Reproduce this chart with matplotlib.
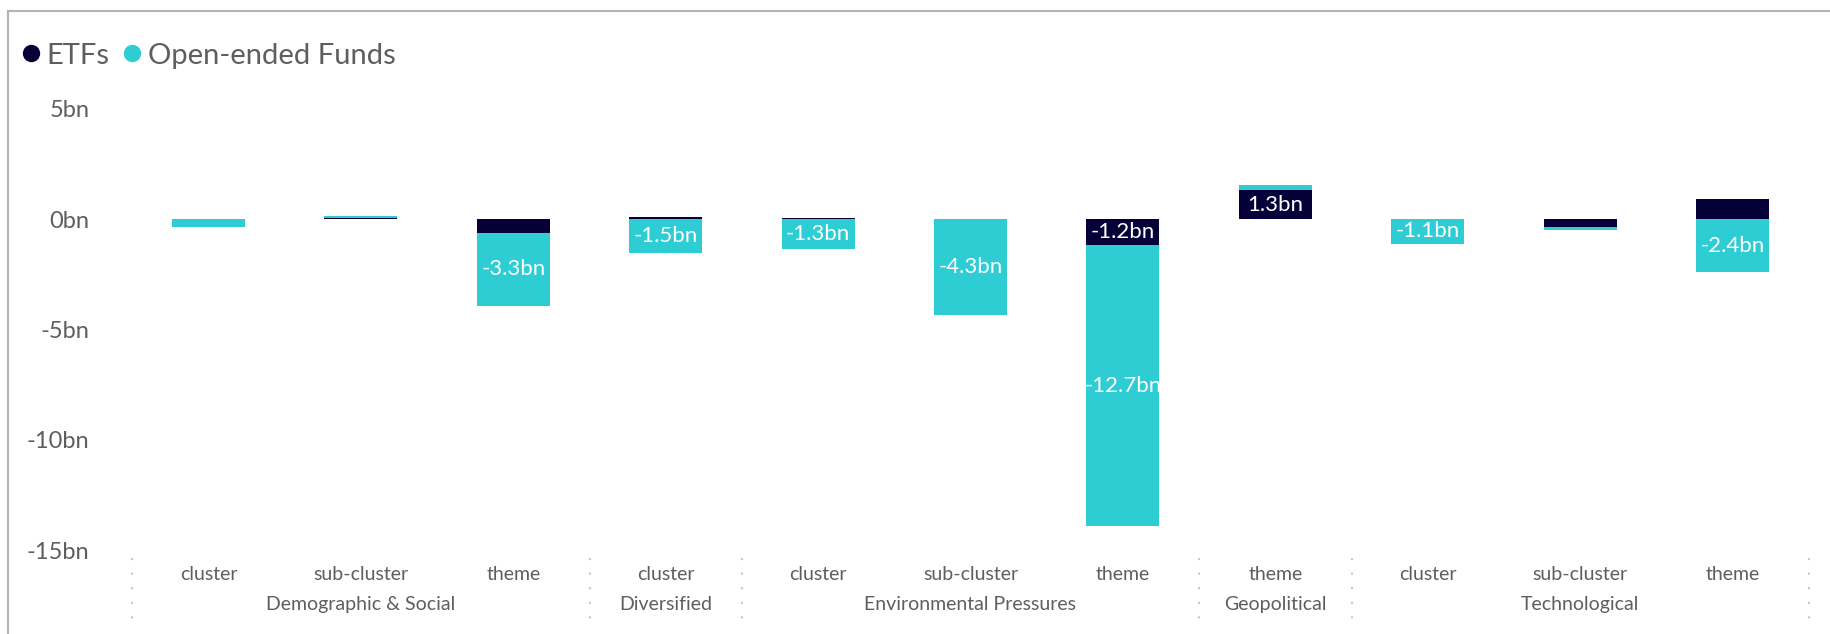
import matplotlib
matplotlib.use("Agg")
import matplotlib.pyplot as plt
from matplotlib.lines import Line2D
import numpy as np

plt.rcParams['font.family'] = ['Lato', 'DejaVu Sans']

# ---- data ----
categories = ["cluster", "sub-cluster", "theme",
              "cluster",
              "cluster", "sub-cluster", "theme",
              "theme",
              "cluster", "sub-cluster", "theme"]
groups = ["Demographic & Social", "Diversified", "Environmental Pressures",
          "Geopolitical", "Technological"]
group_sizes = [3, 1, 3, 1, 3]
etfs = [0.0, 0.05, -0.63, 0.09, 0.05, 0.0, -1.18, 1.31, 0.0, -0.37, 0.90]
oefs = [-0.36, 0.10, -3.29, -1.52, -1.34, -4.34, -12.72, 0.23, -1.12, -0.13, -2.40]
yticks = [5, 0, -5, -10, -15]
ytick_labels = ["5bn", "0bn", "-5bn", "-10bn", "-15bn"]

C_ETF = "#050038"
C_OEF = "#2ECCD3"
TXT = "#605E5C"

W, H = 1831, 634
fig = plt.figure(figsize=(W / 100, H / 100), dpi=100)
ax = fig.add_axes([132.3 / W, 1 - 550.5 / H, (1808.7 - 132.3) / W, (550.5 - 108.5) / H])

x = np.arange(len(categories))
etf = np.array(etfs)
oef = np.array(oefs)

# stacking: positives up from zero, negatives down from zero
pos_base = np.zeros(len(x))
neg_base = np.zeros(len(x))
for vals, color in [(etf, C_ETF), (oef, C_OEF)]:
    bottoms = np.where(vals >= 0, pos_base, neg_base)
    rects = ax.bar(x, vals, bottom=bottoms, width=0.48, color=color, linewidth=0)
    for r, v, b in zip(rects, vals, bottoms):
        if abs(v) >= 1.0:
            t = ax.text(r.get_x() + r.get_width() / 2, b + v / 2, f"{v:.1f}bn",
                        ha="center", va="center", color="white", fontsize=16)
            t.set_clip_path(r)
    pos_base = pos_base + np.where(vals >= 0, vals, 0)
    neg_base = neg_base + np.where(vals < 0, vals, 0)

ax.set_xlim(-0.5, len(x) - 0.5)
ax.set_ylim(-15, 5)
ax.set_yticks(yticks)
ax.set_yticklabels(ytick_labels)
ax.tick_params(axis="y", length=0, pad=31, labelsize=17, labelcolor=TXT)
ax.set_xticks([])
for s in ax.spines.values():
    s.set_visible(False)

trans = ax.get_xaxis_transform()
for xi, c in zip(x, categories):
    ax.text(xi, -0.055, c, transform=trans, ha="center", va="center",
            fontsize=14, color=TXT)

start = 0
bounds = [-0.5]
for g, n in zip(groups, group_sizes):
    center = start + (n - 1) / 2
    ax.text(center, -0.123, g, transform=trans, ha="center", va="center",
            fontsize=14, color=TXT)
    start += n
    bounds.append(start - 0.5)

for b in bounds:
    ax.add_line(Line2D([b, b], [-0.017, -0.17], transform=trans, clip_on=False,
                       color="#C8C8C8", linewidth=1.5, linestyle=(0, (1, 6))))

# frame lines (left and top)
fig.add_artist(Line2D([8 / W, 8 / W], [0, 1 - 11 / H], transform=fig.transFigure,
                      color="#B3B3B3", linewidth=1.5))
fig.add_artist(Line2D([8 / W, 1], [1 - 11 / H, 1 - 11 / H], transform=fig.transFigure,
                      color="#B3B3B3", linewidth=1.5))

handles = [Line2D([], [], marker="o", linestyle="none", markersize=12.5,
                  markerfacecolor=C_ETF, markeredgewidth=0, label="ETFs"),
           Line2D([], [], marker="o", linestyle="none", markersize=12.5,
                  markerfacecolor=C_OEF, markeredgewidth=0, label="Open-ended Funds")]
leg = fig.legend(handles=handles, loc="center left", bbox_to_anchor=(22 / W, 1 - 55.7 / H),
                 ncol=2, frameon=False, fontsize=21, handlelength=0.6, handletextpad=0.25,
                 columnspacing=0.45, borderpad=0, borderaxespad=0)
for t in leg.get_texts():
    t.set_color(TXT)

fig.savefig("out.png", dpi=100, facecolor="white")
